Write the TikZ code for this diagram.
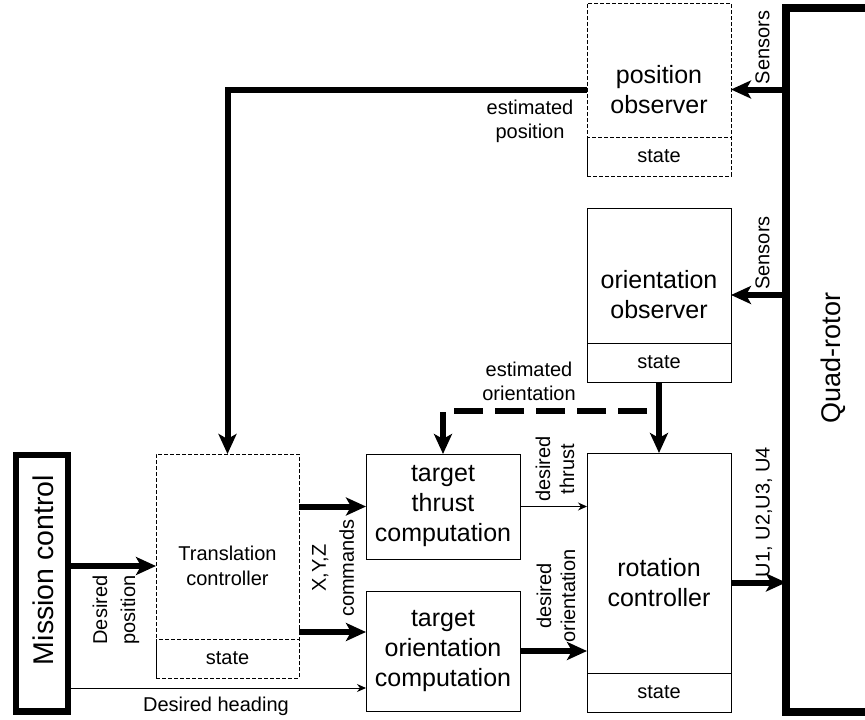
\documentclass[tikz,border=0pt]{standalone}
\usepackage{fontspec}
\setmainfont{Liberation Sans}
\usetikzlibrary{arrows.meta,positioning}

\begin{document}
\begin{tikzpicture}[x=1pt,y=-1pt,outer sep=0pt,inner sep=2pt]
  \tikzset{block/.style={align=center,shape=rectangle,draw,line width=1pt,font=\fontsize{25}{30}\selectfont}}
  \tikzset{statefield/.style={align=center,shape=rectangle,draw,line width=1pt,minimum height=39pt,font=\fontsize{20}{24}\selectfont}}
  \tikzset{dashedbox/.style={dash pattern=on 4pt off 2pt}}
  \tikzset{heavybox/.style={shape=rectangle,draw}}
  \tikzset{lbl/.style={align=center,font=\fontsize{20}{24}\selectfont}}
  \tikzset{widelbl/.style={lbl,rotate=90,font=\fontsize{20}{28}\selectfont}}
  \tikzset{bigarrow/.style={line width=6pt,-{Stealth[length=20pt,width=18pt,inset=5pt]}}}
  \tikzset{smallarrow/.style={line width=1pt,-{Stealth[length=9pt,width=8pt]}}}

  \path [use as bounding box,fill=white] (0,0) rectangle (865,720);

  \node [block,dashedbox,minimum width=144pt,minimum height=173pt] (posobs) at (659,89.5) {position\\observer};
  \node [statefield,dashedbox,minimum width=144pt,above=0pt of posobs.south] (posstate) {state};
  \node [block,minimum width=144pt,minimum height=174pt] (oriobs) at (659,295) {orientation\\observer};
  \node [statefield,minimum width=144pt,above=0pt of oriobs.south] (oristate) {state};
  \node [block,minimum width=144pt,minimum height=259pt] (rotctrl) at (659,582.5) {rotation\\controller};
  \node [statefield,minimum width=144pt,above=0pt of rotctrl.south] (rotstate) {state};
  \node [block,dashedbox,minimum width=143pt,minimum height=224pt,font=\fontsize{20}{25}\selectfont] (transctrl) at (227.5,566) {Translation\\controller};
  \node [statefield,dashedbox,minimum width=143pt,above=0pt of transctrl.south] (transstate) {state};
  \node [block,minimum width=154pt,minimum height=105pt] (thrust) at (443,506.5) {target\\thrust\\computation};
  \node [block,minimum width=154pt,minimum height=120pt] (oricomp) at (443,651) {target\\orientation\\computation};
  \node [heavybox,line width=6.5pt,minimum width=52pt,minimum height=256.5pt] (mission) at (42,583.25) {};
  \node [rotate=90,font=\fontsize{28.5}{34}\selectfont] (missiontext) at (43,570) {Mission control};
  \node [heavybox,line width=8pt,minimum width=98pt,minimum height=704pt] (quad) at (835,360) {};
  \node [rotate=90,font=\fontsize{27}{32}\selectfont] (quadtext) at (833,358) {Quad-rotor};

  \coordinate (branch) at (659,411);
  \coordinate (cmdy) at (0,632);
  \coordinate (headingy) at (0,688);

  \draw [bigarrow] (quad.west |- posobs.east) -- (posobs.east);
  \draw [bigarrow] (quad.west |- oriobs.east) -- (oriobs.east);
  \draw [bigarrow] (posobs.west) -| (transctrl.north);
  \draw [bigarrow] (oriobs.south) -- (rotctrl.north);
  \draw [bigarrow,dash pattern=on 29pt off 12pt,dash phase=29pt] (branch) -| (thrust.north);
  \draw [bigarrow] (mission.east |- transctrl.west) -- (transctrl.west);
  \draw [smallarrow] (mission.east |- headingy) -- (oricomp.west |- headingy);
  \draw [bigarrow] (transctrl.east |- thrust.west) -- (thrust.west);
  \draw [bigarrow] (transctrl.east |- cmdy) -- (oricomp.west |- cmdy);
  \draw [smallarrow] (thrust.east) -- (thrust.east -| rotctrl.west);
  \draw [bigarrow] (oricomp.east) -- (oricomp.east -| rotctrl.west);
  \draw [bigarrow] (rotctrl.east) -- (rotctrl.east -| quad.west);

  \node [lbl] (estpos) at (530,121) {estimated\\position};
  \node [lbl] (estori) at (529,381) {estimated\\orientation};
  \node [lbl,rotate=90] (possensors) at (762.5,47.5) {Sensors};
  \node [lbl,rotate=90] (orisensors) at (762.5,253) {Sensors};
  \node [widelbl] (despos) at (116,610) {Desired\\position};
  \node [lbl] (desheading) at (216,706) {Desired heading};
  \node [widelbl] (xyzcmd) at (333,568) {X,Y,Z\\commands};
  \node [lbl,rotate=90] (desthrust) at (555,469) {desired\\thrust};
  \node [lbl,rotate=90] (desori) at (556,596) {desired\\orientation};
  \node [lbl,rotate=90] (uout) at (764,512) {U1, U2,U3, U4};
\end{tikzpicture}
\end{document}
